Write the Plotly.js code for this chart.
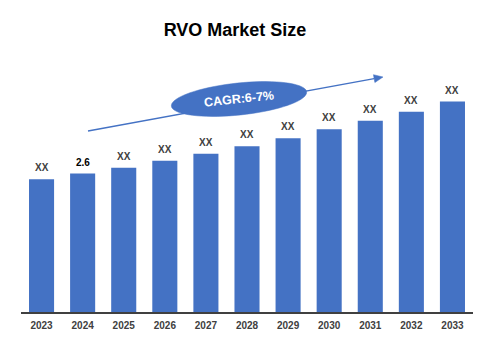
<!DOCTYPE html>
<html>
<head>
<meta charset="utf-8">
<script src="https://cdn.plot.ly/plotly-3.0.1.min.js"></script>
<style>html,body{margin:0;padding:0;background:#fff;}#chart{width:490px;height:346px;}</style>
</head>
<body>
<div id="chart"></div>
<script>
// Data
var years = ['2023','2024','2025','2026','2027','2028','2029','2030','2031','2032','2033'];
var marketSize = [2.49, 2.6, 2.71, 2.84, 2.97, 3.11, 3.26, 3.43, 3.59, 3.76, 3.95];
var barLabels = ['XX','2.6','XX','XX','XX','XX','XX','XX','XX','XX','XX'];
var cagrText = 'CAGR:6-7%';
var chartTitle = 'RVO Market Size';

var W = 490, H = 346, L = 21, R = 17, T = 60, B = 34;
var PW = W - L - R, PH = H - T - B;
function px(x){ return (x - L) / PW; }
function py(y){ return (H - B - y) / PH; }

var blue = '#4472C4';

// rotated ellipse path (pixel geometry -> paper coords)
function ellipsePath(cx, cy, a, b, angDeg){
  var th = angDeg * Math.PI / 180, pts = [];
  for (var i = 0; i < 72; i++){
    var t = i / 72 * 2 * Math.PI;
    var ex = a * Math.cos(t), ey = b * Math.sin(t);
    var x = cx + ex * Math.cos(th) - ey * Math.sin(th);
    var y = cy + ex * Math.sin(th) + ey * Math.cos(th);
    pts.push((i ? 'L' : 'M') + px(x).toFixed(5) + ',' + py(y).toFixed(5));
  }
  return pts.join(' ') + ' Z';
}
// arrow
var ax0 = 88, ay0 = 131, ax1 = 383, ay1 = 77;
var ang = Math.atan2(ay1 - ay0, ax1 - ax0);
var hl = 9, hw = 4;
var bx = ax1 - hl * Math.cos(ang), by = ay1 - hl * Math.sin(ang);
var headPath = 'M' + px(ax1) + ',' + py(ay1) +
  ' L' + px(bx - hw * Math.sin(ang)) + ',' + py(by + hw * Math.cos(ang)) +
  ' L' + px(bx + hw * Math.sin(ang)) + ',' + py(by - hw * Math.cos(ang)) + ' Z';

var annotations = years.map(function(yr, i){
  return {
    x: i, y: marketSize[i], xref: 'x', yref: 'y',
    text: barLabels[i], showarrow: false, yanchor: 'bottom', yshift: 4,
    font: {family: 'Arial, Liberation Sans, sans-serif', size: 10, color: barLabels[i] === 'XX' ? '#404040' : '#000000', weight: 'bold'}
  };
});
annotations.push({
  x: px(239), y: py(99), xref: 'paper', yref: 'paper', text: '<b>' + cagrText + '</b>',
  showarrow: false, textangle: -6, xanchor: 'center', yanchor: 'middle',
  font: {family: 'Arial, Liberation Sans, sans-serif', size: 12.5, color: '#ffffff'}
});

var trace = {
  type: 'bar', x: years, y: marketSize,
  marker: {color: blue}, hoverinfo: 'none'
};

var layout = {
  width: W, height: H,
  margin: {l: L, r: R, t: T, b: B, pad: 0},
  paper_bgcolor: '#ffffff', plot_bgcolor: '#ffffff',
  showlegend: false,
  bargap: 0.39,
  title: {
    text: '<b>' + chartTitle + '</b>', x: 235 / W, xanchor: 'center', xref: 'container',
    y: 1 - 30 / H, yanchor: 'middle', yref: 'container',
    font: {family: 'Arial, Liberation Sans, sans-serif', size: 18, color: '#000000'}
  },
  xaxis: {
    type: 'category', range: [-0.5, years.length - 0.5], autorange: false,
    showline: true, linecolor: '#404040', linewidth: 2,
    ticks: '', showgrid: false, zeroline: false, ticklabelstandoff: 3,
    tickfont: {family: 'Arial, Liberation Sans, sans-serif', size: 10, color: '#404040', weight: 'bold'}
  },
  yaxis: {
    range: [0, PH / 53.27], autorange: false, showgrid: false, zeroline: false, showline: false,
    showticklabels: false, ticks: ''
  },
  shapes: [
    {type: 'line', xref: 'paper', yref: 'paper', x0: px(ax0), y0: py(ay0), x1: px(bx), y1: py(by),
     line: {color: blue, width: 1.5}, layer: 'above'},
    {type: 'path', xref: 'paper', yref: 'paper', path: headPath, fillcolor: blue,
     line: {color: blue, width: 0.5}, layer: 'above'},
    {type: 'path', xref: 'paper', yref: 'paper', path: ellipsePath(239, 99, 68, 16, -6),
     fillcolor: blue, line: {color: blue, width: 0.5}, layer: 'above'}
  ],
  annotations: annotations
};

Plotly.newPlot('chart', [trace], layout, {displayModeBar: false, staticPlot: true});
</script>
</body>
</html>
